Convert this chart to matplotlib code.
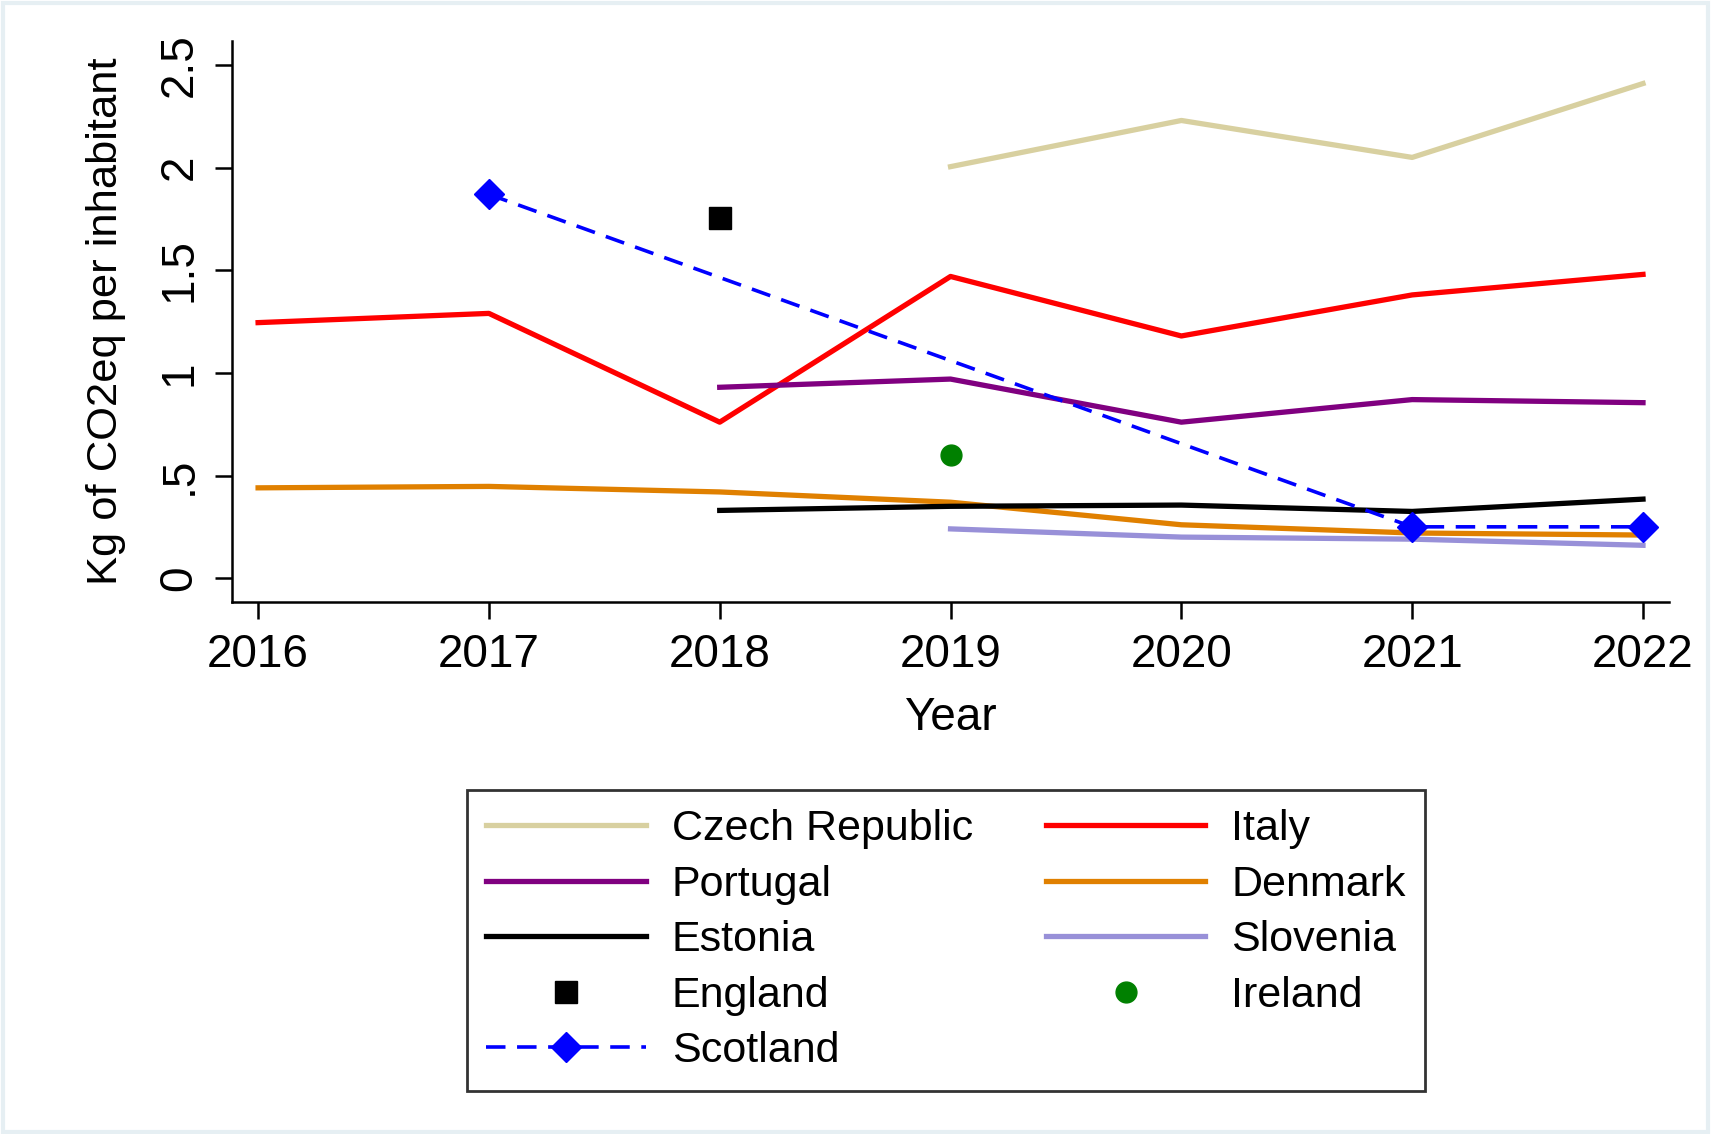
import numpy as np
import matplotlib
matplotlib.use("Agg")
import matplotlib.pyplot as plt
from matplotlib.patches import Rectangle

plt.rcParams['font.family'] = ['Liberation Sans', 'DejaVu Sans']

years = [2016, 2017, 2018, 2019, 2020, 2021, 2022]

czech_years = [2019, 2020, 2021, 2022]
czech = [2.005, 2.23, 2.05, 2.41]
italy = [1.245, 1.29, 0.76, 1.47, 1.18, 1.38, 1.48]
portugal_years = [2018, 2019, 2020, 2021, 2022]
portugal = [0.93, 0.97, 0.76, 0.87, 0.855]
denmark = [0.44, 0.447, 0.42, 0.37, 0.26, 0.22, 0.21]
estonia_years = [2018, 2019, 2020, 2021, 2022]
estonia = [0.33, 0.35, 0.356, 0.325, 0.385]
slovenia_years = [2019, 2020, 2021, 2022]
slovenia = [0.24, 0.20, 0.19, 0.16]
england_years = [2018]
england = [1.755]
ireland_years = [2019]
ireland = [0.60]
scotland_years = [2017, 2021, 2022]
scotland = [1.87, 0.25, 0.25]

ytick_vals = [0, 0.5, 1, 1.5, 2, 2.5]
ytick_labels = ['0', '.5', '1', '1.5', '2', '2.5']

fig = plt.figure(figsize=(17.11, 11.34), dpi=100)
ax = fig.add_axes([0.1356, 0.469, 0.9755 - 0.1356, 0.9638 - 0.469])

lw = 3.8
ax.plot(czech_years, czech, color='#d8d0a0', lw=lw, label='Czech Republic')
ax.plot(years, italy, color='#ff0000', lw=lw, label='Italy')
ax.plot(portugal_years, portugal, color='#800080', lw=lw, label='Portugal')
ax.plot(years, denmark, color='#e08000', lw=lw, label='Denmark')
ax.plot(estonia_years, estonia, color='black', lw=lw, label='Estonia')
ax.plot(slovenia_years, slovenia, color='#9890d8', lw=lw, label='Slovenia')
ax.plot(england_years, england, ls='none', marker='s', ms=16, color='black', label='England')
ax.plot(ireland_years, ireland, ls='none', marker='o', ms=15, color='#008000', label='Ireland')
ax.plot(scotland_years, scotland, color='#0000ff', lw=2.6, ls=(0, (5.4, 3.2)),
        marker='D', ms=15, label='Scotland')

ax.set_xlim(2015.887, 2022.113)
ax.set_ylim(-0.117, 2.617)
ax.set_xticks(years)
ax.set_yticks(ytick_vals)
ax.set_yticklabels(ytick_labels, rotation=90, va='center')
ax.tick_params(axis='both', direction='out', length=12, width=1.8, labelsize=33, pad=10)
for s in ['top', 'right']:
    ax.spines[s].set_visible(False)
for s in ['left', 'bottom']:
    ax.spines[s].set_linewidth(1.8)

ax.set_xlabel('Year', fontsize=33, labelpad=14)
ax.set_ylabel('Kg of CO2eq per inhabitant', fontsize=31.3, labelpad=23)

h, l = ax.get_legend_handles_labels()
order = [0, 2, 4, 6, 8, 1, 3, 5, 7]
leg = fig.legend([h[i] for i in order], [l[i] for i in order], ncol=2,
                 loc='upper left', bbox_to_anchor=(0.273, 0.3034),
                 borderaxespad=0,
                 fontsize=31, frameon=True, fancybox=False, edgecolor='black',
                 handlelength=3.7, handletextpad=0.6, columnspacing=1.7,
                 labelspacing=0.36, borderpad=0.45)
leg.get_frame().set_linewidth(2)

fig.patches.append(Rectangle((0.002, 0.002), 0.996, 0.995, transform=fig.transFigure,
                             fill=False, edgecolor='#e6eff3', lw=3))

fig.savefig('out.png', dpi=100)
